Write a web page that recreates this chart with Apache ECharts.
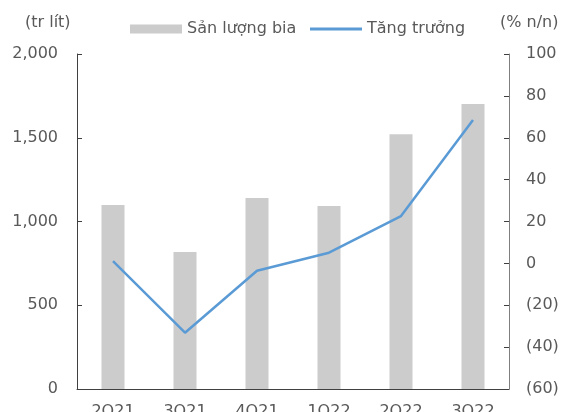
<!DOCTYPE html>
<html>
<head>
<meta charset="utf-8">
<script src="https://cdn.jsdelivr.net/npm/echarts@6/dist/echarts.min.js"></script>
<style>html,body{margin:0;padding:0;background:#fff;}#c{width:580px;height:412px;}</style>
</head>
<body>
<div id="c"></div>
<script>
var categories = ['2Q21', '3Q21', '4Q21', '1Q22', '2Q22', '3Q22'];
var beerVolume = [1098, 818, 1140, 1093, 1521, 1701];
var growth = [1.1, -33.1, -3.5, 5.1, 22.6, 68.5];
var leftTicks = [0, 500, 1000, 1500, 2000];
var rightTicks = [-60, -40, -20, 0, 20, 40, 60, 80, 100];

var FONT = 'DejaVu Sans';
var TXT = '#595959';
var chart = echarts.init(document.getElementById('c'));
chart.setOption({
  animation: false,
  textStyle: { fontFamily: FONT },
  grid: { left: 77, right: 71, top: 54, bottom: 23, containLabel: false, outerBoundsMode: 'none' },
  legend: [{
    data: ['Sản lượng bia'],
    left: 130, top: 21, padding: 0,
    itemWidth: 52, itemHeight: 9, itemGap: 5,
    icon: 'rect',
    textStyle: { fontFamily: FONT, fontSize: 16, color: TXT }
  }, {
    data: ['Tăng trưởng'],
    left: 310, top: 21, padding: 0,
    itemWidth: 52, itemHeight: 3, itemGap: 5,
    icon: 'rect',
    textStyle: { fontFamily: FONT, fontSize: 16, color: TXT }
  }],
  graphic: [
    { type: 'text', left: 25, top: 15, style: { text: '(tr lít)', font: '16px "DejaVu Sans"', fill: TXT } },
    { type: 'text', left: 500, top: 15, style: { text: '(% n/n)', font: '16px "DejaVu Sans"', fill: TXT } }
  ],
  xAxis: {
    type: 'category',
    data: categories,
    boundaryGap: true,
    axisLine: { lineStyle: { color: '#404040', width: 1 } },
    axisTick: { inside: true, length: 5, lineStyle: { color: '#404040' } },
    axisLabel: { color: TXT, fontSize: 16, margin: 15, fontFamily: FONT }
  },
  yAxis: [{
    type: 'value',
    min: leftTicks[0], max: leftTicks[leftTicks.length - 1], interval: 500,
    splitLine: { show: false },
    axisLine: { show: true, lineStyle: { color: '#404040' } },
    axisTick: { show: true, inside: true, length: 5, lineStyle: { color: '#404040' } },
    axisLabel: {
      color: TXT, fontSize: 16, margin: 19, fontFamily: FONT,
      formatter: function (v) { return v.toLocaleString('en-US'); }
    }
  }, {
    type: 'value',
    min: rightTicks[0], max: rightTicks[rightTicks.length - 1], interval: 20,
    position: 'right',
    splitLine: { show: false },
    axisLine: { show: true, lineStyle: { color: '#808080' } },
    axisTick: { show: true, inside: true, length: 5, lineStyle: { color: '#404040' } },
    axisLabel: {
      color: TXT, fontSize: 16, margin: 17, fontFamily: FONT,
      formatter: function (v) { return v < 0 ? '(' + Math.abs(v) + ')' : String(v); }
    }
  }],
  series: [{
    name: 'Sản lượng bia',
    type: 'bar',
    data: beerVolume,
    barWidth: 23,
    yAxisIndex: 0,
    itemStyle: { color: '#CCCCCC' }
  }, {
    name: 'Tăng trưởng',
    type: 'line',
    data: growth,
    yAxisIndex: 1,
    symbol: 'none',
    lineStyle: { color: '#5B9BD5', width: 2.5 },
    itemStyle: { color: '#5B9BD5' }
  }]
});
</script>
</body>
</html>
